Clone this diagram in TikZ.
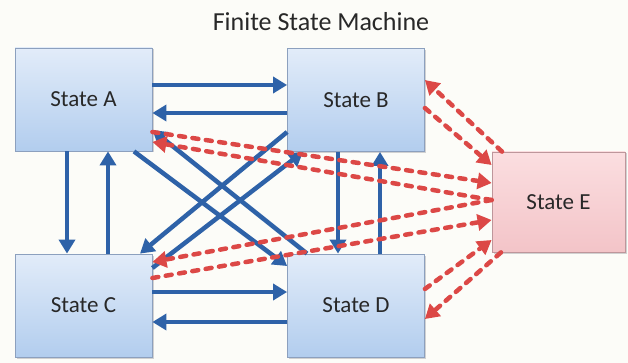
\documentclass[tikz,border=0pt]{standalone}
\usepackage{fontspec}
\setmainfont{Carlito}
\usetikzlibrary{arrows.meta,shadows}
\definecolor{bluearr}{RGB}{46,98,168}
\definecolor{redarr}{RGB}{220,72,70}
\definecolor{boxtop}{RGB}{226,236,249}
\definecolor{boxbot}{RGB}{178,205,238}
\definecolor{boxline}{RGB}{140,160,190}
\definecolor{etop}{RGB}{251,222,224}
\definecolor{ebot}{RGB}{243,196,200}
\definecolor{eline}{RGB}{190,150,155}
\definecolor{bg}{RGB}{252,252,248}
\definecolor{txt}{RGB}{40,40,40}
\begin{document}
\begin{tikzpicture}[x=1pt,y=-1pt,
  statebox/.style={draw=boxline, line width=0.8pt, top color=boxtop, bottom color=boxbot,
    minimum width=137pt, minimum height=103pt, inner sep=0pt,
    font=\fontsize{23}{26}\selectfont, text=txt,
    general shadow={shadow xshift=1.5pt, shadow yshift=-1.5pt, fill=black!18}},
  ebox/.style={statebox, draw=eline, top color=etop, bottom color=ebot,
    minimum width=133pt, minimum height=100pt},
  bluearrow/.style={draw=bluearr, line width=4.5pt, -{Triangle[length=14pt,width=16pt]}},
  redarrow/.style={draw=redarr, line width=4.5pt, dash pattern=on 6pt off 7.5pt, line cap=round,
    -{Triangle[length=14pt,width=16pt]}}
]
\fill[bg] (0,0) rectangle (628,363);
\useasboundingbox (0,0) rectangle (628,363);

\node[font=\fontsize{26}{30}\selectfont, text=txt] (title) at (321,22) {Finite State Machine};

\node[statebox] (A) at (83.5,99.5) {State A};
\node[statebox] (B) at (356,100) {State B};
\node[statebox] (C) at (83.5,305.5) {State C};
\node[statebox] (D) at (356,305.5) {State D};
\node[ebox] (E) at (558.5,202) {State E};

% blue transitions
\draw[bluearrow] (A.east |- 0,85) -- (B.west |- 0,85);
\draw[bluearrow] (B.west |- 0,113) -- (A.east |- 0,113);
\draw[bluearrow] (C.east |- 0,292) -- (D.west |- 0,292);
\draw[bluearrow] (D.west |- 0,322) -- (C.east |- 0,322);
\draw[bluearrow] (A.south -| 67,0) -- (C.north -| 67,0);
\draw[bluearrow] (C.north -| 108,0) -- (A.south -| 108,0);
\draw[bluearrow] (B.south -| 338,0) -- (D.north -| 338,0);
\draw[bluearrow] (D.north -| 380,0) -- (B.south -| 380,0);
\draw[bluearrow] (A.south -| 134,0) -- (D.west |- 0,266);
\draw[bluearrow] (D.north -| 307,0) -- (A.east |- 0,130);
\draw[bluearrow] (B.west |- 0,132) -- (C.north -| 140,0);
\draw[bluearrow] (C.east |- 0,268) -- (B.south -| 303,0);

% red transitions
\draw[redarrow] (A.east |- 0,132) -- (E.west |- 0,183);
\draw[redarrow] (E.west |- 0,200) -- (A.east |- 0,142);
\draw[redarrow] (E.west |- 0,200) -- (C.east |- 0,262);
\draw[redarrow] (C.east |- 0,278) -- (E.west |- 0,220);
\draw[redarrow] (B.east |- 0,108) -- (E.west |- 0,165);
\draw[redarrow] (E.north -| 502,0) -- (B.east |- 0,80);
\draw[redarrow] (D.east |- 0,289) -- (E.west |- 0,240);
\draw[redarrow] (E.south -| 501,0) -- (D.east |- 0,319);
\end{tikzpicture}
\end{document}
